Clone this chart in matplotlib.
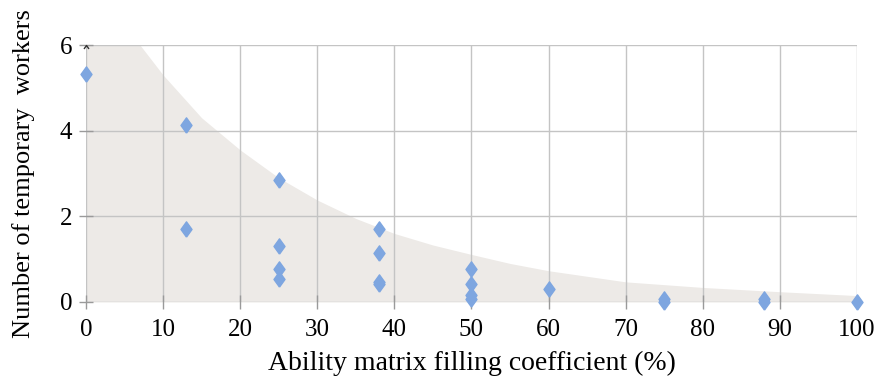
import matplotlib

matplotlib.use("Agg")
import matplotlib.pyplot as plt
import numpy as np

plt.rcParams["font.family"] = ["Liberation Serif", "DejaVu Serif"]

# scatter data
fill_coef = [0, 13, 13, 25, 25, 25, 25, 38, 38, 38, 38, 50, 50, 50, 50, 60, 75, 75, 88, 88, 100]
temp_workers = [5.33, 4.13, 1.71, 2.85, 1.31, 0.76, 0.54, 1.71, 1.14, 0.46, 0.42,
                0.77, 0.41, 0.16, 0.08, 0.30, 0.07, 0.0, 0.07, 0.0, 0.0]

# upper edge of the shaded envelope
env_x = [0, 5, 7, 10, 15, 20, 25, 30, 35, 40, 45, 50, 55, 60, 70, 80, 90, 100]
env_y = [7.9, 6.5, 6.0, 5.3, 4.3, 3.55, 2.9, 2.38, 1.95, 1.6, 1.33, 1.11, 0.9, 0.73, 0.47, 0.34, 0.24, 0.15]

x_ticks = list(range(0, 101, 10))
y_ticks = [0, 2, 4, 6]

fig = plt.figure(figsize=(8.79, 3.80), dpi=100)
ax = fig.add_axes([86 / 879, 1 - 302 / 380, (857 - 86) / 879, (302 - 45) / 380])

ax.fill_between(env_x, 0, env_y, color="#edeae7", lw=0, zorder=0)

grid_col = "#c4c4c4"
for xv in x_ticks:
    ax.axvline(xv, color=grid_col, lw=1.0, zorder=1)
for yv in y_ticks:
    ax.axhline(yv, color=grid_col, lw=1.0, zorder=1)

# small axis-end arrowheads
up_chev = [(-1, -1.4), (0, 0), (1, -1.4)]
right_chev = [(-1.4, -1), (0, 0), (-1.4, 1)]
ax.plot([0], [6], ls="none", marker=up_chev, ms=5, mfc="none", mec="#333333",
        mew=1.0, zorder=2, clip_on=False)
ax.plot([100], [0], ls="none", marker=right_chev, ms=5, mfc="none", mec="#333333",
        mew=1.0, zorder=2, clip_on=False)

diamond = [(0, -1), (0.72, 0), (0, 1), (-0.72, 0), (0, -1)]
ax.plot(fill_coef, temp_workers, ls="none", marker=diamond, ms=11,
        color="#7ea6e0", mec="#7ea6e0", zorder=3, clip_on=False)

ax.set_xlim(0, 100)
ax.set_ylim(0, 6)
ax.set_xticks(x_ticks)
ax.set_yticks(y_ticks)
for s in ax.spines.values():
    s.set_visible(False)
ax.tick_params(direction="inout", length=10, width=1.0, color="#9a9a9a",
               labelsize=18, labelcolor="black")
ax.tick_params(axis="x", pad=7)
ax.tick_params(axis="y", pad=5)

ax.set_xlabel("Ability matrix filling coefficient (%)", fontsize=20, labelpad=7)
ax.set_ylabel("Number of temporary  workers", fontsize=19, labelpad=18)

fig.savefig("out.png", dpi=100)
